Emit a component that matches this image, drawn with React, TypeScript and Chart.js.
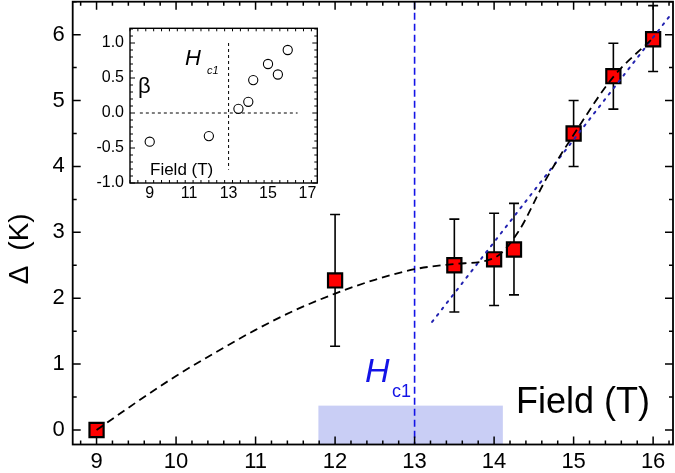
import React, { useEffect, useRef } from "react";
import { Chart, registerables } from "chart.js";

Chart.register(...registerables);

// ---------- main panel data ----------
const FIELD = [9, 12, 13.5, 14, 14.25, 15, 15.5, 16];
const GAP = [0, 2.27, 2.5, 2.59, 2.74, 4.5, 5.37, 5.93];
const GAP_LOW = [0, 1.27, 1.79, 1.89, 2.05, 4.0, 4.87, 5.44];
const GAP_HIGH = [0, 3.27, 3.2, 3.29, 3.44, 5.0, 5.87, 6.44];

const CURVE_X = [9, 9.5, 10, 10.5, 11, 11.5, 12, 12.5, 13, 13.5, 14, 14.3, 14.65, 15, 15.5, 16];
const CURVE_Y = [0, 0.42, 0.82, 1.18, 1.52, 1.82, 2.07, 2.28, 2.44, 2.52, 2.61, 3.0, 3.8, 4.48, 5.36, 5.95];

const FIT_X = [13.22, 16.22];
const FIT_Y = [1.64, 6.3];

const HC1 = 13;
const BAND_X = [11.79, 14.11];
const BAND_TOP = 0.37;

const X_TICKS = [9, 10, 11, 12, 13, 14, 15, 16];
const Y_TICKS = [0, 1, 2, 3, 4, 5, 6];
const X_LABELS = ["9", "10", "11", "12", "13", "14", "15", "16"];
const Y_LABELS = ["0", "1", "2", "3", "4", "5", "6"];

// ---------- inset data ----------
const BETA_FIELD = [9, 12, 13.5, 14, 14.25, 15, 15.5, 16];
const BETA = [-0.41, -0.33, 0.06, 0.16, 0.47, 0.7, 0.55, 0.9];
const INSET_X_TICKS = [9, 11, 13, 15, 17];
const INSET_Y_TICKS = [-1, -0.5, 0, 0.5, 1];
const INSET_X_LABELS = ["9", "11", "13", "15", "17"];
const INSET_Y_LABELS = ["-1.0", "-0.5", "0.0", "0.5", "1.0"];
const INSET_HLINE_X = [8.5, 16.5];
const INSET_VLINE_Y = [-0.81, 1.0];

const FONT = "'Liberation Sans', Arial, Helvetica, sans-serif";

function minorValues(min: number, max: number, step: number): number[] {
  const out: number[] = [];
  const start = Math.ceil(min / step - 1e-9);
  const end = Math.floor(max / step + 1e-9);
  for (let i = start; i <= end; i++) out.push(+(i * step).toFixed(6));
  return out;
}

function drawFrame(
  chart: any,
  xMajor: number[],
  xStep: number,
  yMajor: number[],
  yStep: number,
  majorLen: number,
  minorLen: number,
  frameW: number,
  tickW: number
) {
  const { ctx, chartArea: a, scales } = chart;
  const x = scales.x;
  const y = scales.y;
  ctx.save();
  ctx.setLineDash([]);
  ctx.strokeStyle = "#000";
  ctx.lineWidth = tickW;
  ctx.beginPath();
  const xs = minorValues(x.min, x.max, xStep);
  xs.forEach((v) => {
    const isMajor = xMajor.some((m) => Math.abs(m - v) < 1e-6);
    const len = isMajor ? majorLen : minorLen;
    const px = x.getPixelForValue(v);
    ctx.moveTo(px, a.bottom);
    ctx.lineTo(px, a.bottom - len);
    ctx.moveTo(px, a.top);
    ctx.lineTo(px, a.top + len);
  });
  const ys = minorValues(y.min, y.max, yStep);
  ys.forEach((v) => {
    const isMajor = yMajor.some((m) => Math.abs(m - v) < 1e-6);
    const len = isMajor ? majorLen : minorLen;
    const py = y.getPixelForValue(v);
    ctx.moveTo(a.left, py);
    ctx.lineTo(a.left + len, py);
    ctx.moveTo(a.right, py);
    ctx.lineTo(a.right - len, py);
  });
  ctx.stroke();
  ctx.lineWidth = frameW;
  ctx.strokeRect(a.left, a.top, a.right - a.left, a.bottom - a.top);
  ctx.restore();
}

function drawLabels(
  chart: any,
  xTicks: number[],
  xLabels: string[],
  yTicks: number[],
  yLabels: string[],
  fontSize: number,
  xOffset: number,
  yGap: number
) {
  const { ctx, chartArea: a, scales } = chart;
  ctx.save();
  ctx.fillStyle = "#000";
  ctx.font = `${fontSize}px ${FONT}`;
  ctx.textAlign = "center";
  ctx.textBaseline = "middle";
  xTicks.forEach((v, i) => {
    ctx.fillText(xLabels[i], scales.x.getPixelForValue(v), a.bottom + xOffset);
  });
  ctx.textAlign = "right";
  yTicks.forEach((v, i) => {
    ctx.fillText(yLabels[i], a.left - yGap, scales.y.getPixelForValue(v));
  });
  ctx.restore();
}

const mainPlugin = {
  id: "mainDecor",
  beforeDatasetsDraw(chart: any) {
    const { ctx, chartArea: a, scales } = chart;
    const x = scales.x;
    const y = scales.y;
    ctx.save();
    // shaded band
    ctx.fillStyle = "#c9cef5";
    const bx0 = x.getPixelForValue(BAND_X[0]);
    const bx1 = x.getPixelForValue(BAND_X[1]);
    const by = y.getPixelForValue(BAND_TOP);
    ctx.fillRect(bx0, by, bx1 - bx0, a.bottom - by);
    // Hc1 vertical dashed line
    const hx = x.getPixelForValue(HC1);
    ctx.strokeStyle = "#1414e6";
    ctx.lineWidth = 1.6;
    ctx.setLineDash([7, 4]);
    ctx.beginPath();
    ctx.moveTo(hx, a.top);
    ctx.lineTo(hx, a.bottom);
    ctx.stroke();
    // error bars
    ctx.setLineDash([]);
    ctx.strokeStyle = "#000";
    ctx.lineWidth = 1.6;
    ctx.beginPath();
    FIELD.forEach((f, i) => {
      if (GAP_HIGH[i] - GAP_LOW[i] <= 0) return;
      const px = x.getPixelForValue(f);
      const p0 = y.getPixelForValue(GAP_LOW[i]);
      const p1 = y.getPixelForValue(GAP_HIGH[i]);
      ctx.moveTo(px, p0);
      ctx.lineTo(px, p1);
      ctx.moveTo(px - 5, p0);
      ctx.lineTo(px + 5, p0);
      ctx.moveTo(px - 5, p1);
      ctx.lineTo(px + 5, p1);
    });
    ctx.stroke();
    ctx.restore();
  },
  afterDraw(chart: any) {
    const { ctx } = chart;
    drawFrame(chart, X_TICKS, 0.2, Y_TICKS, 0.5, 8, 4, 1.8, 1.5);
    drawLabels(chart, X_TICKS, X_LABELS, Y_TICKS, Y_LABELS, 22, 17, 8);
    ctx.save();
    // Hc1 label
    ctx.fillStyle = "#1414e6";
    ctx.textBaseline = "alphabetic";
    ctx.textAlign = "left";
    ctx.font = `italic 34px ${FONT}`;
    ctx.fillText("H", 365, 381.5);
    ctx.font = `18px ${FONT}`;
    ctx.fillText("c1", 392, 397);
    // Field (T)
    ctx.fillStyle = "#000";
    ctx.font = `36px ${FONT}`;
    ctx.fillText("Field (T)", 516, 413);
    // y title
    ctx.textAlign = "center";
    ctx.textBaseline = "middle";
    ctx.translate(20, 0);
    ctx.rotate(-Math.PI / 2);
    ctx.font = `28px ${FONT}`;
    ctx.fillText("(K)", -232, 0);
    ctx.fillText("\u0394", -275, 0);
    ctx.restore();
  },
};

const insetPlugin = {
  id: "insetDecor",
  beforeDatasetsDraw(chart: any) {
    const { ctx, scales } = chart;
    const x = scales.x;
    const y = scales.y;
    ctx.save();
    ctx.strokeStyle = "#000";
    ctx.lineWidth = 1;
    ctx.setLineDash([3, 3]);
    ctx.beginPath();
    const y0 = y.getPixelForValue(0);
    ctx.moveTo(x.getPixelForValue(INSET_HLINE_X[0]), y0);
    ctx.lineTo(x.getPixelForValue(INSET_HLINE_X[1]), y0);
    const xh = x.getPixelForValue(HC1);
    ctx.moveTo(xh, y.getPixelForValue(INSET_VLINE_Y[1]));
    ctx.lineTo(xh, y.getPixelForValue(INSET_VLINE_Y[0]));
    ctx.stroke();
    ctx.restore();
  },
  afterDraw(chart: any) {
    const { ctx } = chart;
    drawFrame(chart, INSET_X_TICKS, 0.4, INSET_Y_TICKS, 0.1, 5, 3, 1.4, 1);
    drawLabels(chart, INSET_X_TICKS, INSET_X_LABELS, INSET_Y_TICKS, INSET_Y_LABELS, 16, 10.8, 6);
    ctx.save();
    ctx.fillStyle = "#000";
    ctx.textAlign = "left";
    ctx.textBaseline = "alphabetic";
    ctx.font = `22px ${FONT}`;
    ctx.fillText("\u03B2", 48, 73);
    ctx.font = `italic 22px ${FONT}`;
    ctx.fillText("H", 95, 45);
    ctx.font = `italic 11px ${FONT}`;
    ctx.fillText("c1", 117, 54);
    ctx.font = `17px ${FONT}`;
    ctx.fillText("Field (T)", 60, 154.5);
    ctx.restore();
  },
};

function hiddenScale(min: number, max: number, ticks: number[], size: number, horizontal: boolean) {
  return {
    type: "linear",
    min,
    max,
    afterBuildTicks: (s: any) => {
      s.ticks = ticks.map((v) => ({ value: v }));
    },
    afterFit: (s: any) => {
      if (horizontal) s.height = size;
      else s.width = size;
    },
    grid: { display: false, drawTicks: false },
    border: { display: false },
    ticks: { display: false },
  } as any;
}

export default function App() {
  const mainRef = useRef<HTMLCanvasElement | null>(null);
  const insetRef = useRef<HTMLCanvasElement | null>(null);

  useEffect(() => {
    document.body.style.margin = "0";
    const mainCanvas = mainRef.current;
    const insetCanvas = insetRef.current;
    if (!mainCanvas || !insetCanvas) return;

    const main = new Chart(mainCanvas, {
      type: "scatter",
      data: {
        datasets: [
          {
            type: "line",
            data: CURVE_X.map((v, i) => ({ x: v, y: CURVE_Y[i] })),
            borderColor: "#000",
            borderWidth: 1.8,
            borderDash: [8, 5],
            pointRadius: 0,
            fill: false,
            cubicInterpolationMode: "monotone",
          } as any,
          {
            type: "line",
            data: FIT_X.map((v, i) => ({ x: v, y: FIT_Y[i] })),
            borderColor: "#2323b0",
            borderWidth: 2,
            borderDash: [2, 6],
            borderCapStyle: "round",
            pointRadius: 0,
            fill: false,
          } as any,
          {
            data: FIELD.map((v, i) => ({ x: v, y: GAP[i] })),
            pointStyle: "rect",
            pointRadius: 10,
            pointHoverRadius: 10,
            backgroundColor: "#ff0000",
            borderColor: "#000",
            borderWidth: 2.2,
          } as any,
        ],
      },
      options: {
        animation: false,
        responsive: false,
        events: [],
        layout: { autoPadding: false, padding: { left: 0, top: 1.7, right: 2, bottom: 0 } },
        plugins: { legend: { display: false }, tooltip: { enabled: false } },
        scales: {
          x: hiddenScale(8.7, 16.25, X_TICKS, 28.5, true),
          y: hiddenScale(-0.22, 6.5, Y_TICKS, 72.7, false),
        },
      } as any,
      plugins: [mainPlugin],
    });

    const inset = new Chart(insetCanvas, {
      type: "scatter",
      data: {
        datasets: [
          {
            data: BETA_FIELD.map((v, i) => ({ x: v, y: BETA[i] })),
            pointStyle: "circle",
            pointRadius: 4.6,
            pointHoverRadius: 4.6,
            backgroundColor: "#fff",
            borderColor: "#000",
            borderWidth: 1.1,
          } as any,
        ],
      },
      options: {
        animation: false,
        responsive: false,
        events: [],
        layout: { autoPadding: false, padding: { left: 0, top: 8.3, right: 7.7, bottom: 0 } },
        plugins: { legend: { display: false }, tooltip: { enabled: false } },
        scales: {
          x: hiddenScale(8, 17.5, INSET_X_TICKS, 22, true),
          y: hiddenScale(-1, 1.21, INSET_Y_TICKS, 40, false),
        },
      } as any,
      plugins: [insetPlugin],
    });

    return () => {
      main.destroy();
      inset.destroy();
    };
  }, []);

  return (
    <div style={{ position: "relative", width: 675, height: 473, background: "#fff" }}>
      <canvas
        ref={mainRef}
        width={675}
        height={473}
        style={{ position: "absolute", left: 0, top: 0, width: 675, height: 473 }}
      />
      <canvas
        ref={insetRef}
        width={235}
        height={185}
        style={{ position: "absolute", left: 90, top: 20, width: 235, height: 185 }}
      />
    </div>
  );
}
